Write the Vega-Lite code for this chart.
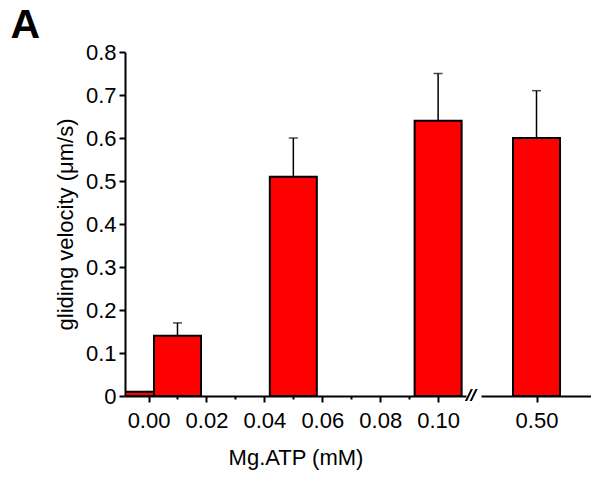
{
  "$schema": "https://vega.github.io/schema/vega-lite/v6.json",
  "background": "white",
  "padding": {"left": 10, "top": 5, "right": 0, "bottom": 5},
  "title": {"text": "A", "anchor": "start", "fontSize": 41, "font": "Liberation Sans", "fontWeight": "bold", "dx": -44, "dy": -2, "offset": -8},
  "data": {"values": [
    {"atp": 0.00, "v": 0.01, "hi": 0.01},
    {"atp": 0.01, "v": 0.14, "hi": 0.17},
    {"atp": 0.05, "v": 0.51, "hi": 0.60},
    {"atp": 0.10, "v": 0.64, "hi": 0.75},
    {"atp": 0.50, "v": 0.60, "hi": 0.71}
  ]},
  "bounds": "flush",
  "spacing": 15,
  "config": {
    "view": {"stroke": null},
    "font": "Liberation Sans",
    "axis": {"domainColor": "black", "domainWidth": 2, "tickColor": "black", "tickWidth": 2, "labelColor": "black", "titleColor": "black", "grid": false}
  },
  "hconcat": [
    {
      "width": 341,
      "height": 344,
      "transform": [{"filter": "datum.atp <= 0.2"}],
      "encoding": {
        "x": {"field": "atp", "type": "quantitative", "scale": {"domain": [-0.0064, 0.1079], "nice": false, "zero": false},
          "axis": {"title": "Mg.ATP (mM)", "values": [0, 0.01, 0.02, 0.03, 0.04, 0.05, 0.06, 0.07, 0.08, 0.09, 0.1],
            "labelExpr": "round(datum.value*100) % 2 == 0 ? format(datum.value, '.2f') : ''",
            "tickSize": {"condition": {"test": "round(datum.value*100) % 2 == 0", "value": 6}, "value": 3},
            "labelFontSize": 22, "titleFontSize": 22, "titleFontWeight": "normal", "labelFont": "Liberation Sans", "titleFont": "Liberation Sans",
            "labelPadding": 8, "titlePadding": 16, "labelFlush": false}}
      },
      "layer": [
        {"mark": {"type": "rule", "color": "black", "strokeWidth": 1.5},
          "encoding": {"y": {"field": "v", "type": "quantitative", "scale": {"domain": [0, 0.8], "nice": false},
            "axis": {"title": "gliding velocity (μm/s)", "values": [0, 0.05, 0.1, 0.15, 0.2, 0.25, 0.3, 0.35, 0.4, 0.45, 0.5, 0.55, 0.6, 0.65, 0.7, 0.75, 0.8],
              "labelExpr": "datum.value == 0 ? '0' : (round(datum.value*100) % 10 == 0 ? format(datum.value, '.1f') : '')",
              "tickSize": {"condition": {"test": "round(datum.value*100) % 10 == 0", "value": 6}, "value": 3},
              "labelFontSize": 22, "titleFontSize": 22, "titleFontWeight": "normal", "labelFont": "Liberation Sans", "titleFont": "Liberation Sans",
              "labelPadding": 3, "titlePadding": 8}},
            "y2": {"field": "hi"}}},
        {"mark": {"type": "tick", "color": "black", "orient": "horizontal", "size": 9, "thickness": 1.5},
          "encoding": {"y": {"field": "hi", "type": "quantitative"}}},
        {"mark": {"type": "bar", "fill": "#ff0000", "stroke": "black", "strokeWidth": 2, "size": 47, "clip": true},
          "encoding": {"y": {"field": "v", "type": "quantitative"}}},
        {"mark": {"type": "text", "text": "//", "fontSize": 17, "fontStyle": "italic", "font": "Liberation Sans", "dx": 10, "dy": 0, "baseline": "middle", "align": "center", "clip": false},
          "encoding": {"x": {"datum": 0.1079}, "y": {"datum": 0}}}
      ]
    },
    {
      "width": 110,
      "height": 344,
      "transform": [{"filter": "datum.atp > 0.2"}],
      "encoding": {
        "x": {"field": "atp", "type": "quantitative", "scale": {"domain": [0.4495, 0.5495], "nice": false, "zero": false},
          "axis": {"title": null, "values": [0.5], "format": ".2f", "tickSize": 6, "labelPadding": 8, "labelFontSize": 22, "labelFont": "Liberation Sans"}}
      },
      "layer": [
        {"mark": {"type": "rule", "color": "black", "strokeWidth": 1.5},
          "encoding": {"y": {"field": "v", "type": "quantitative", "scale": {"domain": [0, 0.8], "nice": false}, "axis": null},
            "y2": {"field": "hi"}}},
        {"mark": {"type": "tick", "color": "black", "orient": "horizontal", "size": 9, "thickness": 1.5},
          "encoding": {"y": {"field": "hi", "type": "quantitative"}}},
        {"mark": {"type": "bar", "fill": "#ff0000", "stroke": "black", "strokeWidth": 2, "size": 47},
          "encoding": {"y": {"field": "v", "type": "quantitative"}}}
      ]
    }
  ]
}
